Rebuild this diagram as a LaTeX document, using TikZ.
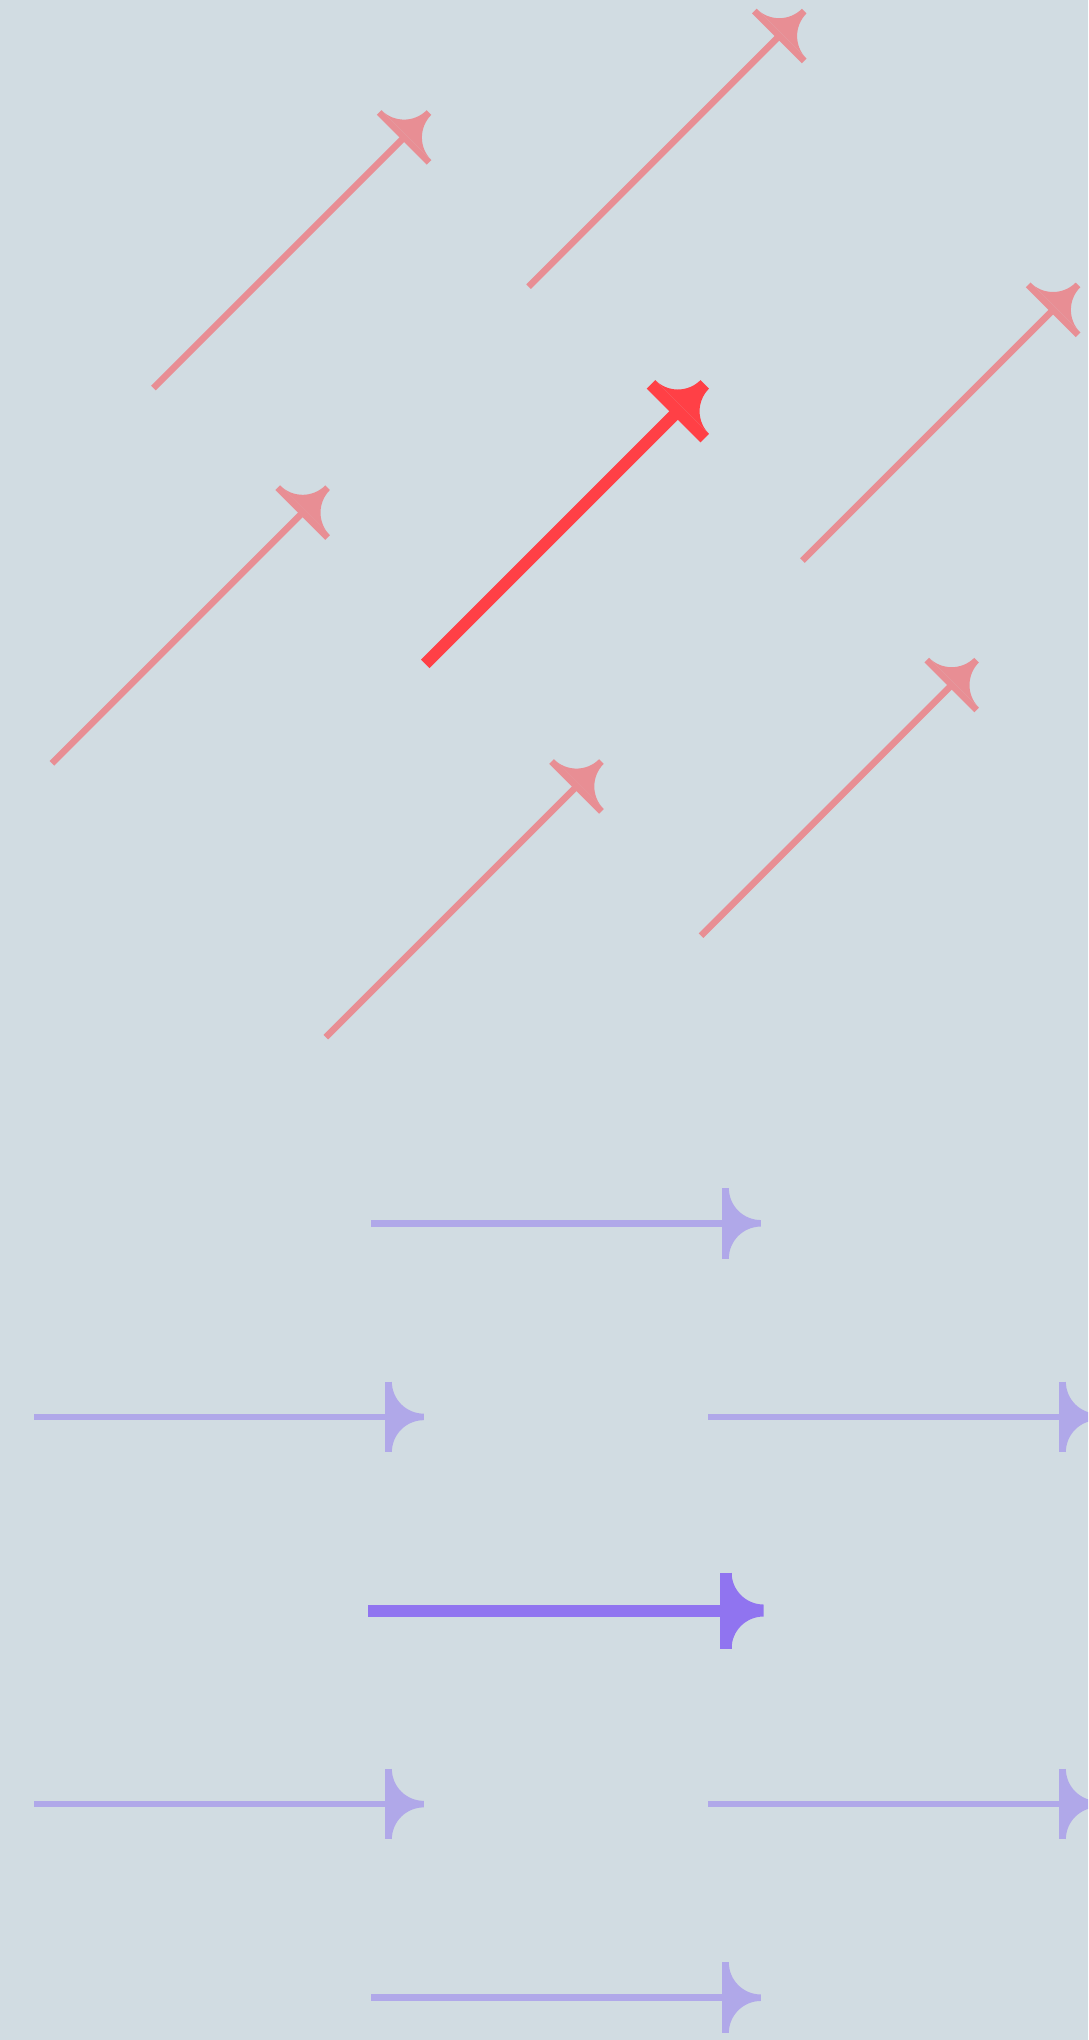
\documentclass[tikz,border=0pt]{standalone}
\usepackage{tikz}
\definecolor{bgc}{RGB}{209,220,226}
\definecolor{redmain}{RGB}{255,64,70}
\definecolor{bluemain}{RGB}{144,116,240}
\colorlet{redthin}{redmain!50!bgc}
\colorlet{bluethin}{bluemain!50!bgc}
\newcommand\hexarrow[5]{%
  \begin{scope}[shift={(#2,#3)}]
    \pgfmathsetmacro\aw{#4}
    \pgfmathsetmacro\alw{\aw*0.5}
    \pgfmathsetmacro\aH{32+\aw/2}
    \pgfmathsetmacro\aB{159.6}
    \pgfmathsetmacro\aT{\aB+\aH}
    \pgfmathsetmacro\aR{\aH-\aw/2}
    \pgfmathsetmacro\aK{0.5523*\aR}
    \coordinate (#1-s) at (-\aT,0);
    \coordinate (#1-b) at (\aB,0);
    \draw[line width=\alw pt, #5] (#1-s) -- (#1-b);
    \fill[#5] (\aB-\aw/2,-\aH) rectangle (\aB+\aw/2,\aH);
    \fill[#5] (\aB+\aw/2,\aH) .. controls (\aB+\aw/2,\aH-\aK) and (\aT-\aK,\aw/2) .. (\aT,\aw/2)
      -- (\aT,-\aw/2) .. controls (\aT-\aK,-\aw/2) and (\aB+\aw/2,-\aH+\aK) .. (\aB+\aw/2,-\aH) -- cycle;
  \end{scope}}
\begin{document}
\begin{tikzpicture}[x=0.5pt,y=-0.5pt]
  \useasboundingbox (0,0) rectangle (1088,2040);
  \fill[bgc] (0,0) rectangle (1088,2040);
  \clip (0,0) rectangle (1088,2040);
  % rotated (red) pattern
  \begin{scope}[shift={(565,524.1)}, rotate=45]
    \hexarrow{r1}{0}{-387.2}{6.5}{redthin}
    \hexarrow{r2}{-337}{-193.6}{6.5}{redthin}
    \hexarrow{r3}{337}{-193.6}{6.5}{redthin}
    \hexarrow{r4}{-337}{193.6}{6.5}{redthin}
    \hexarrow{r5}{337}{193.6}{6.5}{redthin}
    \hexarrow{r6}{0}{387.2}{6.5}{redthin}
    \hexarrow{r0}{0}{0}{12}{redmain}
  \end{scope}
  % original (blue) pattern
  \begin{scope}[shift={(566,1610.5)}]
    \hexarrow{b1}{0}{-387.2}{6.5}{bluethin}
    \hexarrow{b2}{-337}{-193.6}{6.5}{bluethin}
    \hexarrow{b3}{337}{-193.6}{6.5}{bluethin}
    \hexarrow{b4}{-337}{193.6}{6.5}{bluethin}
    \hexarrow{b5}{337}{193.6}{6.5}{bluethin}
    \hexarrow{b6}{0}{387.2}{6.5}{bluethin}
    \hexarrow{b0}{0}{0}{12}{bluemain}
  \end{scope}
\end{tikzpicture}
\end{document}
